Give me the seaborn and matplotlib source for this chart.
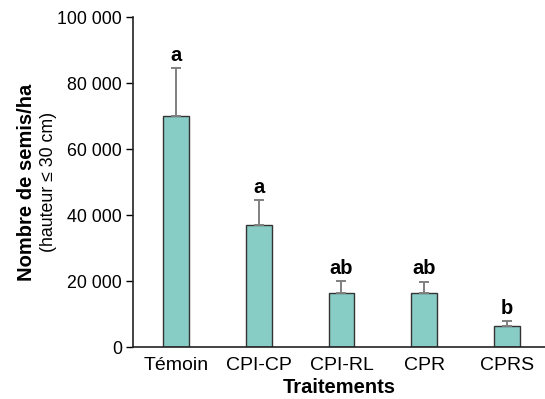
import pandas as pd
import seaborn as sns
import matplotlib.pyplot as plt
from matplotlib.ticker import FuncFormatter

# Data
traitements = ['Témoin', 'CPI-CP', 'CPI-RL', 'CPR', 'CPRS']
semis = [70000, 37000, 16500, 16500, 6500]
erreur = [14500, 7500, 3500, 3300, 1300]
lettres = ['a', 'a', 'ab', 'ab', 'b']

df = pd.DataFrame({'traitement': traitements, 'semis': semis})

sns.set_style('white')
plt.rcParams['font.family'] = ['Liberation Sans', 'DejaVu Sans']
plt.rcParams['text.color'] = 'black'
plt.rcParams['xtick.color'] = 'black'
plt.rcParams['ytick.color'] = 'black'

fig = plt.figure(figsize=(5.45, 3.99), dpi=100)
ax = fig.add_axes([0.244, 0.130, 0.756, 0.827])

sns.barplot(data=df, x='traitement', y='semis', color='#88ccc6', width=0.31,
            edgecolor='#333333', linewidth=1.0, saturation=1, errorbar=None, ax=ax)

# Upper error bars only
ax.errorbar(range(len(traitements)), semis, yerr=[[0] * len(erreur), erreur],
            fmt='none', ecolor='#808080', elinewidth=1.4, capsize=3.5, capthick=1.4)

for i, (v, e, l) in enumerate(zip(semis, erreur, lettres)):
    ax.text(i, v + e + 1000, l, ha='center', va='bottom', fontsize=14.5, fontweight='bold')

ax.set_ylim(0, 100000)
ax.set_xlim(-0.52, 4.46)
ax.set_yticks(range(0, 100001, 20000))
ax.yaxis.set_major_formatter(FuncFormatter(lambda v, p: f'{int(v):,}'.replace(',', ' ')))
ax.tick_params(axis='y', direction='out', length=5, width=1, labelsize=12.8, left=True, pad=3)
ax.tick_params(axis='x', length=0, labelsize=14, pad=7)

sns.despine(ax=ax)
for s in ['left', 'bottom']:
    ax.spines[s].set_color('#222222')
    ax.spines[s].set_linewidth(1.2)

ax.set_xlabel('')
ax.set_ylabel('')
fig.text(0.622, 0.005, 'Traitements', ha='center', va='bottom',
         fontsize=14.5, fontweight='bold')
fig.text(0.048, 0.544, 'Nombre de semis/ha', rotation=90, ha='center', va='center',
         fontsize=14.5, fontweight='bold')
fig.text(0.089, 0.544, '(hauteur ≤ 30 cm)', rotation=90, ha='center', va='center',
         fontsize=12.8)

fig.savefig('out.png', dpi=100)
